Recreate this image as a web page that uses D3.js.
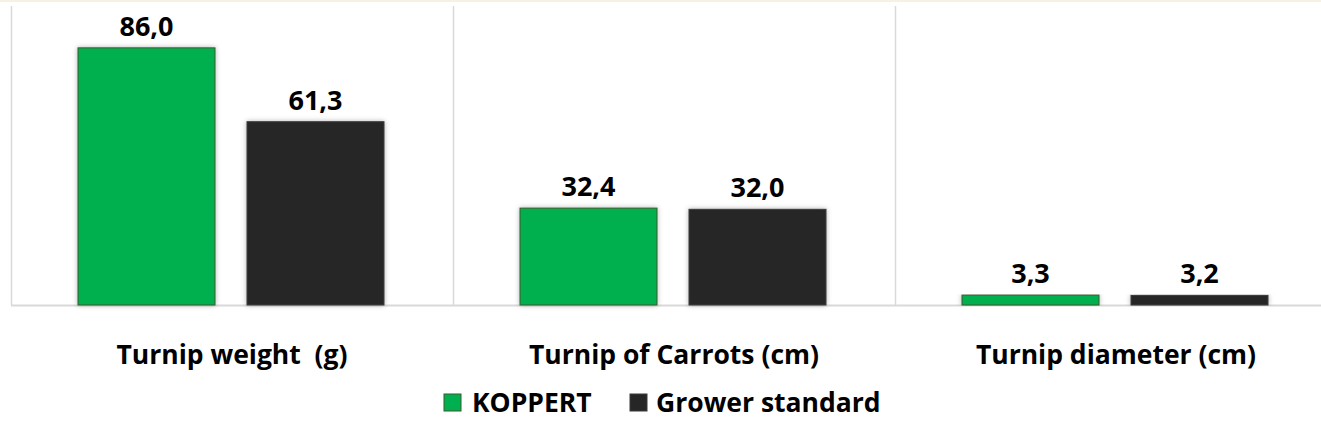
<!DOCTYPE html>
<html>
<head>
<meta charset="utf-8">
<script src="https://cdn.jsdelivr.net/npm/d3@7"></script>
<style>
  html, body { margin: 0; padding: 0; background: #fff; }
  svg { display: block; font-family: "Open Sans", Lato, sans-serif; font-weight: bold; }
</style>
</head>
<body>
<svg></svg>
<script>
"use strict";

var categories = ["Turnip weight  (g)", "Turnip of Carrots (cm)", "Turnip diameter (cm)"];
var series = ["KOPPERT", "Grower standard"];
var koppert = [86.0, 32.4, 3.3];
var grower = [61.3, 32.0, 3.2];
var colors = ["#00b050", "#262626"];
var strokes = ["#3a5a2a", "#3a3a3a"];

var width = 1321, height = 444;
var svg = d3.select("svg").attr("width", width).attr("height", height);

var defs = svg.append("defs");
var shadow = defs.append("filter").attr("id", "shadow")
  .attr("x", "-10%").attr("y", "-10%").attr("width", "120%").attr("height", "120%");
shadow.append("feDropShadow").attr("dx", 0).attr("dy", 0)
  .attr("stdDeviation", 2.5).attr("flood-color", "#000").attr("flood-opacity", 0.3);

var rows = categories.map(function (c, i) {
  return { cat: c, values: [koppert[i], grower[i]] };
});

// top strip
svg.append("rect").attr("x", 0).attr("y", 0).attr("width", width).attr("height", 2)
  .attr("fill", "#f7f1e3");

var x0 = d3.scaleBand().domain(categories).range([11, 11 + 3 * 442]);
var x1 = d3.scaleBand().domain(series).range([67, 373]).paddingInner(32 / 169);
var y = d3.scaleLinear().domain([0, 100]).range([305, 6]);

var fmt = d3.formatLocale({ decimal: ",", thousands: ".", grouping: [3], currency: ["", ""] }).format(".1f");

// separators
svg.append("g").selectAll("line").data(categories).join("line")
  .attr("x1", function (d) { return x0(d) + 0.5; })
  .attr("x2", function (d) { return x0(d) + 0.5; })
  .attr("y1", 6).attr("y2", y(0))
  .attr("stroke", "#d9d9d9").attr("stroke-width", 1.5);

svg.append("line")
  .attr("x1", 11).attr("x2", width).attr("y1", y(0) + 0.5).attr("y2", y(0) + 0.5)
  .attr("stroke", "#d9d9d9").attr("stroke-width", 2);

var group = svg.append("g").selectAll("g").data(rows).join("g")
  .attr("transform", function (d) { return "translate(" + x0(d.cat) + ",0)"; });

var cells = function (d) {
  return d.values.map(function (v, i) { return { key: series[i], i: i, value: v }; });
};

group.selectAll("rect").data(cells).join("rect")
  .attr("x", function (d) { return x1(d.key); })
  .attr("y", function (d) { return y(d.value); })
  .attr("width", x1.bandwidth())
  .attr("height", function (d) { return y(0) - y(d.value); })
  .attr("fill", function (d) { return colors[d.i]; })
  .attr("stroke", function (d) { return strokes[d.i]; })
  .attr("stroke-width", 1)
  .attr("filter", "url(#shadow)");

group.selectAll("text").data(cells).join("text")
  .attr("x", function (d) { return x1(d.key) + x1.bandwidth() / 2; })
  .attr("y", function (d) { return y(d.value) - 12; })
  .attr("text-anchor", "middle")
  .attr("font-size", 27)
  .attr("fill", "#000")
  .text(function (d) { return fmt(d.value); });

// category labels
svg.append("g").selectAll("text").data(categories).join("text")
  .attr("x", function (d) { return x0(d) + 221; })
  .attr("y", 364)
  .attr("text-anchor", "middle")
  .attr("font-size", 26.5)
  .attr("fill", "#000")
  .attr("xml:space", "preserve")
  .style("white-space", "pre")
  .text(function (d) { return d; });

// legend
var legendX = [444, 630];
var legend = svg.append("g").selectAll("g").data(series).join("g")
  .attr("transform", function (d, i) { return "translate(" + legendX[i] + ",394)"; });
legend.append("rect")
  .attr("width", 17).attr("height", 17)
  .attr("fill", function (d, i) { return colors[i]; })
  .attr("stroke", function (d, i) { return strokes[i]; })
  .attr("stroke-width", 1);
legend.append("text")
  .attr("x", function (d, i) { return i === 0 ? 28 : 26; })
  .attr("y", 17.5)
  .attr("font-size", 26.5)
  .attr("fill", "#000")
  .text(function (d) { return d; });
</script>
</body>
</html>
